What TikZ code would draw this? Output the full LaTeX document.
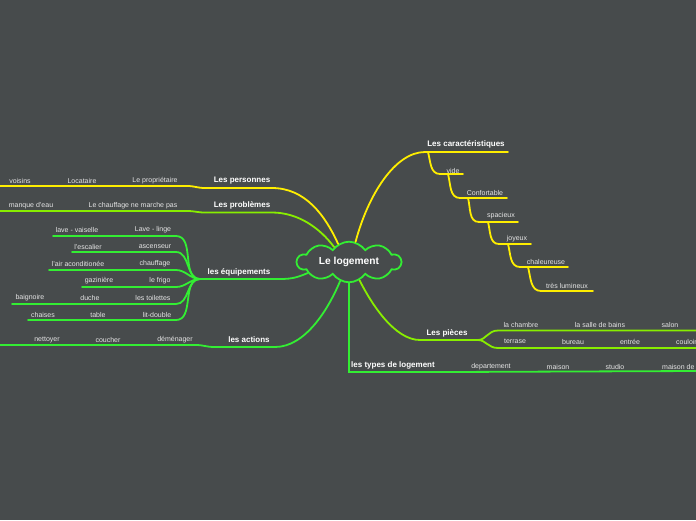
\documentclass[tikz,border=0pt]{standalone}
\usepackage{fontspec}
\setmainfont{Liberation Sans}
\usetikzlibrary{shapes.symbols}
\definecolor{fond}{HTML}{474B4C}
\definecolor{jaune}{HTML}{FFEE00}
\definecolor{vertjaune}{HTML}{88EE00}
\definecolor{vert}{HTML}{33EE33}

\begin{document}
\begin{tikzpicture}[x=1pt,y=-1pt,
	item/.style={text=white!90!black,font=\fontsize{7}{8}\selectfont,inner sep=0pt},
	titre/.style={text=white,font=\bfseries\fontsize{8}{9}\selectfont,inner sep=0pt},
	lien/.style={line width=1.8pt,line cap=round}]
	
	% Background
	\fill[fond] (0,0) rectangle (696,520);
	\clip (0,0) rectangle (696,520);
	
	% Draw the central cloud
	\node[cloud, cloud puffs=10, cloud puff arc=110, aspect=3, inner sep=0pt,
		draw=vert, fill=fond, line width=1.8pt,
		minimum width=104pt, minimum height=40pt, text=white,
		font=\bfseries\fontsize{10.2}{11}\selectfont] (logement) at (349,262) {Le logement};
	
	% Les personnes
	\node[titre] (personnes) at (242,180.5) {Les personnes};
	\node[item] (voisins) at (20,180.5) {voisins};
	\node[item] (locataire) at (82,180.5) {Locataire};
	\node[item] (proprio) at (155,180.5) {Le propriétaire};
	\draw[lien,jaune] (logement.121) .. controls (325,215) and (305,188) .. (272,188) -- (205,188)
		.. controls (197,188) and (195,186) .. (187,186) -- (0,186);
	
	% Les problemes
	\node[titre] (problemes) at (242,205.5) {Les problèmes};
	\node[item] (eau) at (31,205.5) {manque d'eau};
	\node[item] (chauffage) at (133,205.5) {Le chauffage ne marche pas};
	\draw[lien,vertjaune] (logement.135) .. controls (320,228) and (298,212.5) .. (272,212.5) -- (205,212.5)
		.. controls (197,212.5) and (195,211) .. (187,211) -- (0,211);
	
	% les equipements
	\node[titre] (equipements) at (239,272.5) {les équipements};
	\coordinate (hub) at (200,279);
	\draw[lien,vert] (hub) -- (280,279) .. controls (293,279) and (298,277) .. (logement.195);
	\foreach \y/\x in {236/53,252/72,270/49,287/82,304/12,320/28}
		\draw[lien,vert] (\x,\y) -- (176,\y) to[out=0,in=180] (hub);
	\foreach \t/\x/\y [count=\i] in {lave - vaiselle/77/229.5, Lave - linge/153/229.5,
		l'escalier/88/246.5, ascenseur/155/246.5,
		l'air aconditionée/78/263.5, chauffage/155/263.5,
		gazinière/99/280.5, le frigo/160/280.5,
		baignoire/30/297.5, duche/90/297.5, les toilettes/153/297.5,
		chaises/43/314.5, table/98/314.5, lit-double/157/314.5}
		\node[item] (eq\i) at (\x,\y) {\t};
	
	% les actions
	\node[titre] (actions) at (249,339.5) {les actions};
	\node[item] (nettoyer) at (47,339.5) {nettoyer};
	\node[item] (coucher) at (108,339.5) {coucher};
	\node[item] (demenager) at (175,339.5) {déménager};
	\draw[lien,vert] (logement.245) .. controls (328,310) and (305,347) .. (275,347) -- (215,347)
		.. controls (205,347) and (205,345) .. (195,345) -- (0,345);
	
	% Les caracteristiques
	\node[titre] (caracteristiques) at (466,144.5) {Les caractéristiques};
	\draw[lien,jaune] (logement.72) .. controls (368,195) and (395,152) .. (425,152) -- (508,152);
	\draw[lien,jaune] (428,152) to[out=-75,in=180] (440,174) -- (463,174);
	\draw[lien,jaune] (448,174) to[out=-75,in=180] (460,198) -- (507,198);
	\draw[lien,jaune] (468,198) to[out=-75,in=180] (479,222) -- (518,222);
	\draw[lien,jaune] (488,222) to[out=-75,in=180] (499,244) -- (531,244);
	\draw[lien,jaune] (508,244) to[out=-75,in=180] (520,267) -- (568,267);
	\draw[lien,jaune] (528,267) to[out=-75,in=180] (541,291) -- (593,291);
	\node[item] (vide) at (453,170.5) {vide};
	\node[item] (confortable) at (485,193) {Confortable};
	\node[item] (spacieux) at (501,216) {spacieux};
	\node[item] (joyeux) at (517,238.5) {joyeux};
	\node[item] (chaleureuse) at (546,262) {chaleureuse};
	\node[item] (lumineux) at (567,285.5) {très lumineux};
	
	% Les pieces
	\node[titre] (pieces) at (447,333) {Les pièces};
	\coordinate (fourche) at (478,340);
	\draw[lien,vertjaune] (logement.300) .. controls (372,305) and (395,340) .. (420,340) -- (fourche);
	\draw[lien,vertjaune] (fourche) .. controls (486,340) and (488,330.5) .. (498,330.5) -- (696,330.5);
	\draw[lien,vertjaune] (fourche) .. controls (486,340) and (488,348) .. (498,348) -- (696,348);
	\node[item] (chambre) at (521,324.5) {la chambre};
	\node[item] (bains) at (600,324.5) {la salle de bains};
	\node[item] (salon) at (670,324.5) {salon};
	\node[item] (terrase) at (515,341.5) {terrase};
	\node[item] (bureau) at (573,341.5) {bureau};
	\node[item] (entree) at (630,341.5) {entrée};
	\node[item,anchor=west] (couloir) at (676,341.5) {couloir};
	
	% les types de logement
	\node[titre] (types) at (393,365.5) {les types de logement};
	\draw[lien,vert] (logement.south) -- (349,372) -- (450,372) -- (696,371);
	\node[item] (departement) at (491,366.5) {departement};
	\node[item] (maison) at (558,366.5) {maison};
	\node[item] (studio) at (615,366.5) {studio};
	\node[item,anchor=west] (maisonde) at (662,366.5) {maison de};
	
\end{tikzpicture}
\end{document}
